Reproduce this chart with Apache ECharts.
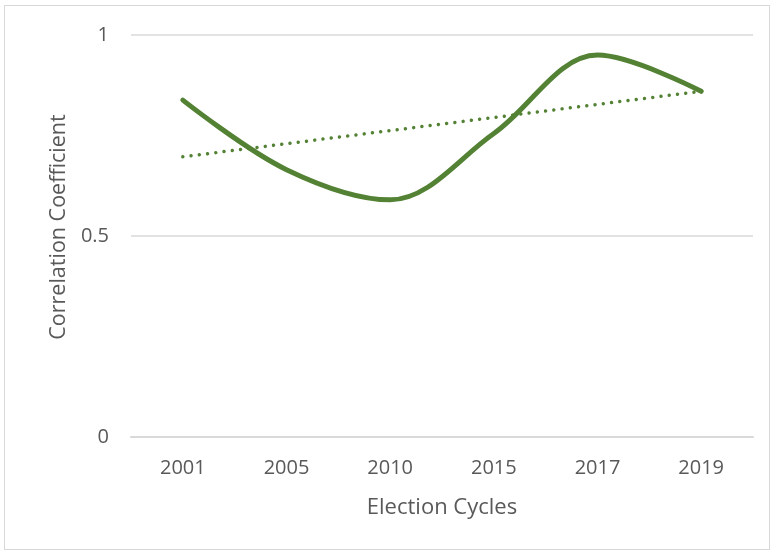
<!DOCTYPE html>
<html>
<head>
<meta charset="utf-8">
<script src="https://cdn.jsdelivr.net/npm/echarts@6/dist/echarts.min.js"></script>
<style>
html,body{margin:0;padding:0;background:#fff;}
#frame{position:absolute;left:4px;top:5px;width:766px;height:545px;border:1px solid #d9d9d9;box-sizing:border-box;}
#chart{position:absolute;left:0;top:0;width:774px;height:554px;}
</style>
</head>
<body>
<div id="frame"></div>
<div id="chart"></div>
<script>
const categories = ['2001', '2005', '2010', '2015', '2017', '2019'];
const correlation = [0.838, 0.665, 0.590, 0.755, 0.950, 0.860];
// Linear trendline endpoints (middle points left empty, joined straight)
const trendline = [0.697, null, null, null, null, 0.860];
const yTicks = [0, 0.5, 1];

const chart = echarts.init(document.getElementById('chart'), null, {renderer: 'canvas'});
const FONT = 'Open Sans';
const TXT = '#595959';
chart.setOption({
  animation: false,
  grid: {left: 131, right: 21, top: 35, bottom: 117, containLabel: false},
  xAxis: {
    type: 'category',
    data: categories,
    boundaryGap: true,
    name: 'Election Cycles',
    nameLocation: 'middle',
    nameGap: 60,
    nameTextStyle: {fontFamily: FONT, fontSize: 22, color: TXT},
    axisLine: {show: true, lineStyle: {color: '#d9d9d9', width: 2}},
    axisTick: {show: false},
    axisLabel: {fontFamily: FONT, fontSize: 20, color: TXT, margin: 21}
  },
  yAxis: {
    type: 'value',
    min: 0, max: 1, interval: 0.5,
    name: 'Correlation Coefficient',
    nameLocation: 'middle',
    nameGap: 61,
    nameTextStyle: {fontFamily: FONT, fontSize: 21.5, color: TXT, padding: [0, 0, 0, 18]},
    axisLine: {show: false},
    axisTick: {show: false},
    splitLine: {lineStyle: {color: '#d9d9d9', width: 1.5}},
    axisLabel: {
      fontFamily: FONT, fontSize: 20, color: TXT, margin: 22,
      formatter: v => yTicks.includes(v) ? String(v) : ''
    }
  },
  series: [
    {
      type: 'line',
      data: correlation,
      smooth: 0.35,
      symbol: 'none',
      lineStyle: {color: '#548235', width: 5, cap: 'round', join: 'round'},
      z: 3
    },
    {
      type: 'line',
      data: trendline,
      connectNulls: true,
      symbol: 'none',
      lineStyle: {color: '#548235', width: 3.5, type: [0.01, 8.3], cap: 'round'},
      z: 2
    }
  ]
});
</script>
</body>
</html>
